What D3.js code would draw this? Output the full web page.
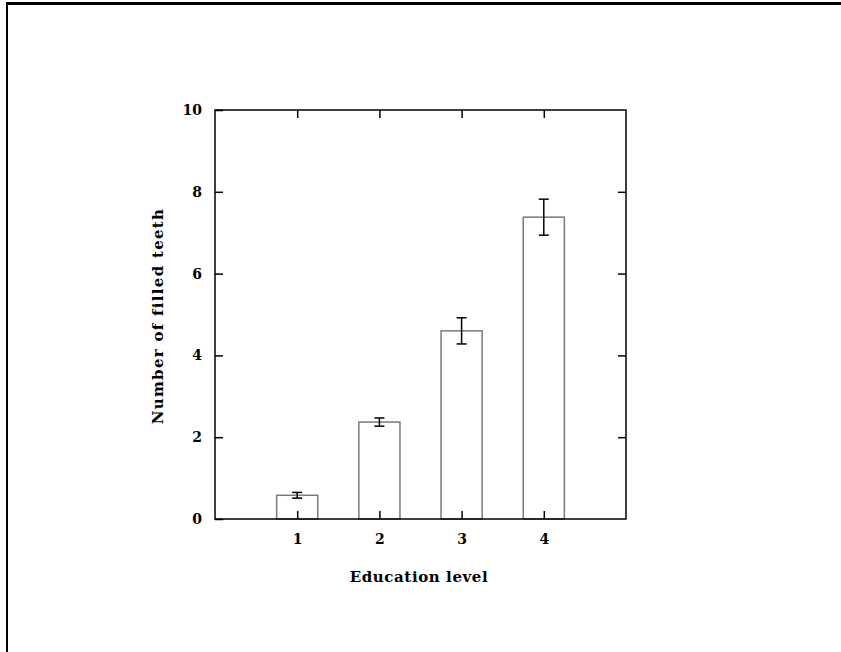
<!DOCTYPE html>
<html>
<head>
<meta charset="utf-8">
<script src="https://cdn.jsdelivr.net/npm/d3@7"></script>
<style>
  body { margin: 0; background: #fff; }
  svg text { font-family: "DejaVu Serif", "Liberation Serif", serif; fill: #000; }
</style>
</head>
<body>
<svg id="canvas" width="841" height="652"></svg>
<script>
var levels = [1, 2, 3, 4];
var means = [0.58, 2.37, 4.6, 7.38];
var errors = [0.07, 0.1, 0.32, 0.44];
var yTicks = [0, 2, 4, 6, 8, 10];

var svg = d3.select('svg#canvas');

// outer frame, top and left edges only
svg.append('line').attr('x1', 7).attr('x2', 841).attr('y1', 3.5).attr('y2', 3.5)
  .attr('stroke', '#000').attr('stroke-width', 3);
svg.append('line').attr('x1', 7).attr('x2', 7).attr('y1', 2).attr('y2', 652)
  .attr('stroke', '#000').attr('stroke-width', 2);

var x = d3.scaleLinear().domain([0, 5]).range([215, 626]);
var y = d3.scaleLinear().domain([0, 10]).range([519, 110]);
var barW = x(0.5) - x(0);

// bars
svg.append('g').selectAll('rect').data(levels).join('rect')
  .attr('x', function(d) { return x(d) - barW / 2; })
  .attr('y', function(d, i) { return y(means[i]); })
  .attr('width', barW)
  .attr('height', function(d, i) { return y(0) - y(means[i]); })
  .attr('fill', 'none')
  .attr('stroke', '#7a7a7a')
  .attr('stroke-width', 1.5);

// error bars
var eb = svg.append('g').attr('stroke', '#000').attr('stroke-width', 1.5);
levels.forEach(function(d, i) {
  var cx = x(d);
  eb.append('line').attr('x1', cx).attr('x2', cx)
    .attr('y1', y(means[i] + errors[i])).attr('y2', y(means[i] - errors[i]));
  eb.append('line').attr('x1', cx - 5).attr('x2', cx + 5)
    .attr('y1', y(means[i] + errors[i])).attr('y2', y(means[i] + errors[i]));
  eb.append('line').attr('x1', cx - 5).attr('x2', cx + 5)
    .attr('y1', y(means[i] - errors[i])).attr('y2', y(means[i] - errors[i]));
});

// axes with inward ticks
function styleAxis(g) {
  g.select('.domain').remove();
  g.selectAll('.tick line').attr('stroke', '#000').attr('stroke-width', 1.5);
  g.selectAll('.tick text').attr('font-size', 14).attr('font-weight', 'bold');
}

svg.append('g').attr('transform', 'translate(215,0)')
  .call(d3.axisLeft(y).tickValues(yTicks).tickSize(-8).tickPadding(13))
  .call(styleAxis);
svg.append('g').attr('transform', 'translate(626,0)')
  .call(d3.axisRight(y).tickValues(yTicks.slice(1, -1)).tickSize(-8).tickFormat(''))
  .call(styleAxis);
svg.append('g').attr('transform', 'translate(0,519)')
  .call(d3.axisBottom(x).tickValues(levels).tickSize(-8).tickPadding(15).tickFormat(d3.format('d')))
  .call(styleAxis);
svg.append('g').attr('transform', 'translate(0,110)')
  .call(d3.axisTop(x).tickValues(levels).tickSize(-8).tickFormat(''))
  .call(styleAxis);

// plot frame
svg.append('rect')
  .attr('x', 215).attr('y', 110).attr('width', 411).attr('height', 409)
  .attr('fill', 'none').attr('stroke', '#000').attr('stroke-width', 1.5);

// axis titles
svg.append('text')
  .attr('x', 419).attr('y', 582)
  .attr('text-anchor', 'middle')
  .attr('font-size', 15).attr('font-weight', 'bold')
  .attr('letter-spacing', 0.6)
  .text('Education level');

svg.append('text')
  .attr('transform', 'translate(163,316) rotate(-90)')
  .attr('text-anchor', 'middle')
  .attr('font-size', 15).attr('font-weight', 'bold')
  .attr('letter-spacing', 1.3)
  .text('Number of filled teeth');
</script>
</body>
</html>
